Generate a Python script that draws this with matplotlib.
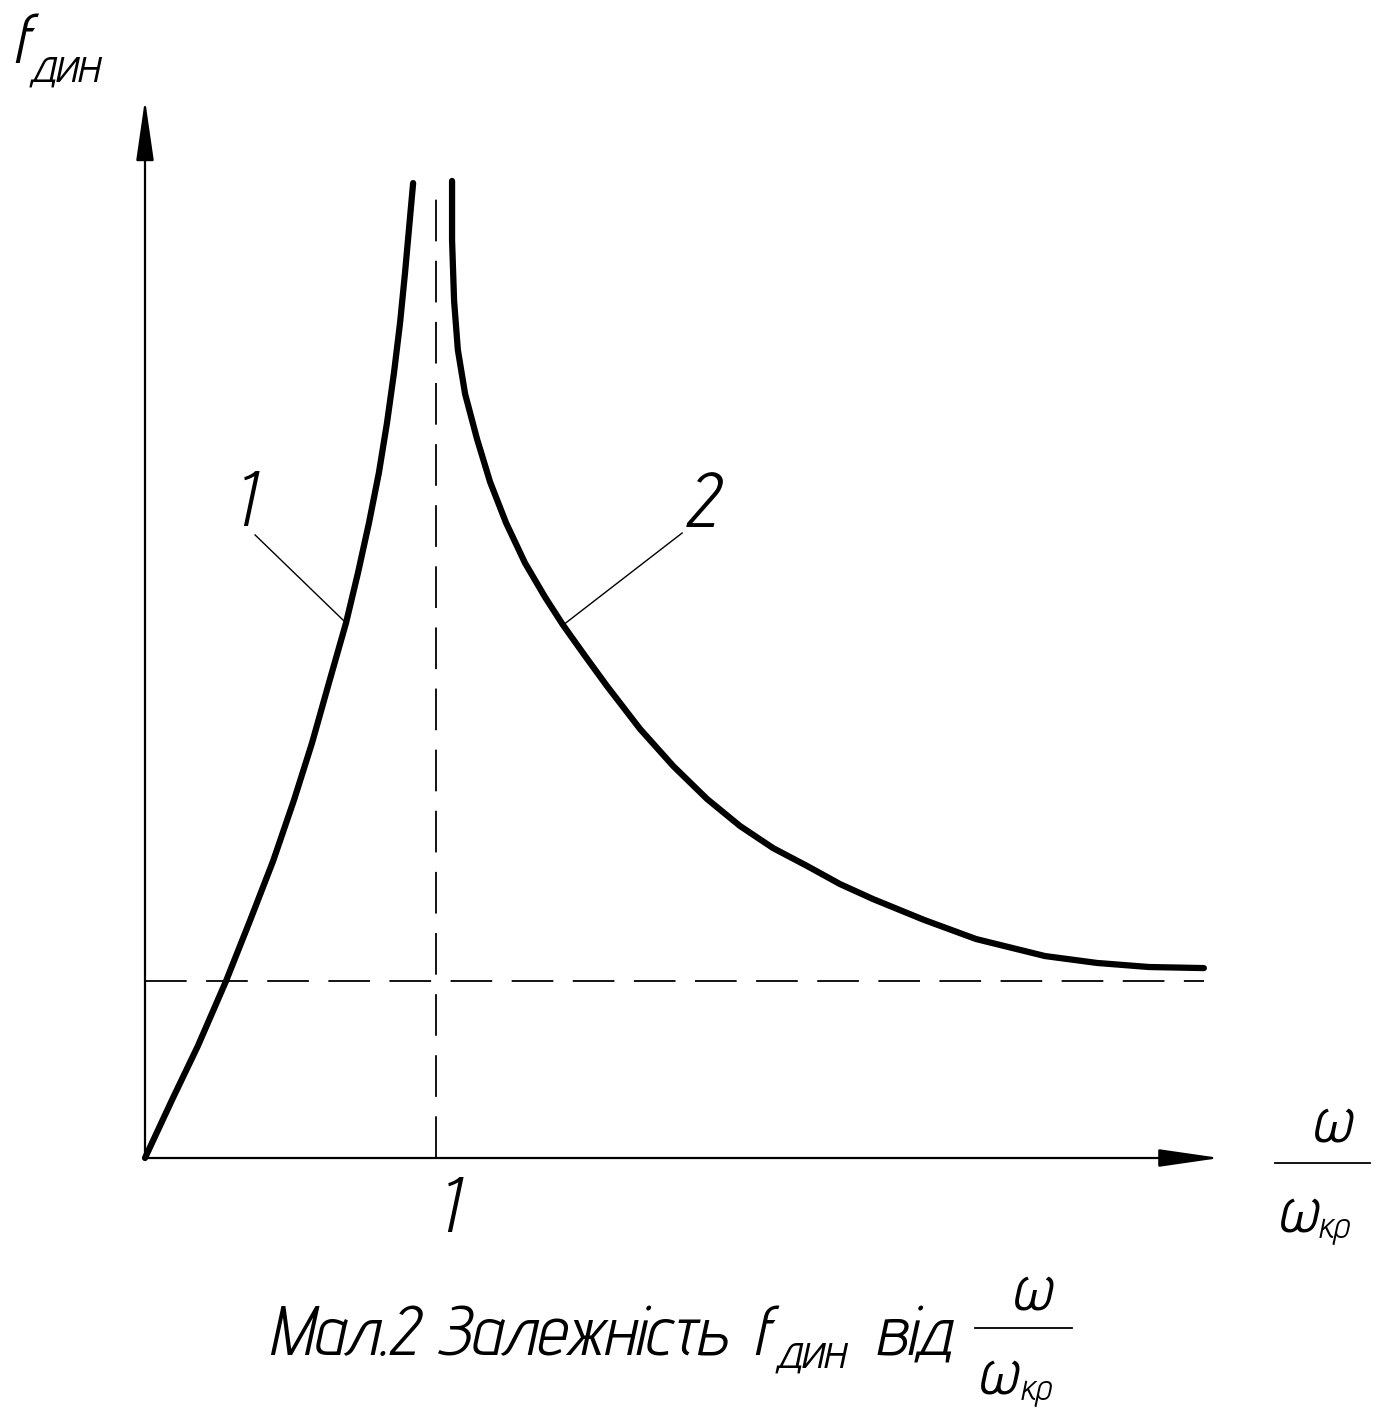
import matplotlib.pyplot as plt

plt.rcParams['font.family'] = ['Advent Pro', 'DejaVu Sans']
plt.rcParams['font.style'] = 'italic'
plt.rcParams['lines.scale_dashes'] = False

# curve 1: omega < omega_cr
x1 = [0, 0.093, 0.182, 0.279, 0.361, 0.441, 0.513, 0.575, 0.634, 0.692,
      0.733, 0.771, 0.805, 0.833, 0.857, 0.878, 0.895, 0.909, 0.923]
y1 = [0, 0.328, 0.633, 1.0, 1.339, 1.678, 2.023, 2.345, 2.689, 3.023,
      3.305, 3.588, 3.870, 4.153, 4.435, 4.718, 5.0, 5.254, 5.508]

# curve 2: omega > omega_cr
x2 = [1.057, 1.057, 1.064, 1.077, 1.102, 1.143, 1.188, 1.243, 1.308, 1.377,
      1.439, 1.515, 1.590, 1.704, 1.818, 1.935, 2.048, 2.162, 2.279, 2.392,
      2.506, 2.682, 2.861, 3.098, 3.277, 3.456, 3.645]
y2 = [5.520, 5.186, 4.842, 4.565, 4.316, 4.062, 3.819, 3.588, 3.362, 3.169,
      3.011, 2.836, 2.667, 2.424, 2.215, 2.028, 1.876, 1.751, 1.650, 1.548,
      1.463, 1.345, 1.237, 1.141, 1.102, 1.079, 1.073]

x_tick = 1
y_static = 1
x_max = 3.70
y_max = 5.98

fig = plt.figure(figsize=(13.91, 14.19), dpi=100)
ax = fig.add_axes([0, 0, 1, 1])
ax.set_xlim(-145 / 290.5, (1391 - 145) / 290.5)
ax.set_ylim((1158 - 1419) / 177, 1158 / 177)
ax.axis('off')

# axes with arrows
arr = dict(arrowstyle='-|>,head_length=3.8,head_width=0.55', lw=1.6,
           color='k', shrinkA=0, shrinkB=0)
ax.annotate('', xy=(0, y_max), xytext=(0, 0), arrowprops=arr)
ax.annotate('', xy=(x_max, 0), xytext=(0, 0), arrowprops=arr)

# dashed asymptotes
ax.plot([x_tick, x_tick], [0, 5.50], color='k', lw=1.3, dashes=(30, 14))
ax.plot([0, x2[-1]], [y_static, y_static], color='k', lw=1.3, dashes=(30, 14))

# curves
ax.plot(x1, y1, color='k', lw=4.5, solid_capstyle='round', solid_joinstyle='round')
ax.plot(x2, y2, color='k', lw=4.5, solid_capstyle='round', solid_joinstyle='round')

# leaders and labels
ax.plot([0.379, x1[9]], [3.52, y1[9]], color='k', lw=1.0)
ax.plot([1.849, x2[10]], [3.531, y2[10]], color='k', lw=1.0)
ax.text(0.330, 3.678, '1', fontsize=56, ha='center', va='center')
ax.text(1.910, 3.672, '2', fontsize=56, ha='center', va='center')

# tick label
ax.text(1.035, -0.31, '1', fontsize=56, ha='center', va='center')

def ftext(px, py, s, size, ha='left'):
    fig.text(px / 1391, 1 - py / 1419, s, fontsize=size, ha=ha, va='baseline')

def fbar(px0, px1, py):
    fig.add_artist(plt.Line2D([px0 / 1391, px1 / 1391], [1 - py / 1419] * 2,
                              color='k', lw=1.3))

# y label
ftext(12, 63, 'f', 50)
ftext(30, 82, 'дин', 36)

# x label fraction
ftext(1330, 1141, 'ω', 48, ha='center')
fbar(1275, 1370, 1163)
ftext(1276, 1232, 'ω', 48)
ftext(1318, 1238, 'кр', 26)

# caption
ftext(268, 1355, 'Мал.2 Залежність', 51)
ftext(752, 1355, 'f', 51)
ftext(776, 1368, 'дин', 36)
ftext(875, 1355, 'від', 51)
ftext(1030, 1310, 'ω', 48, ha='center')
fbar(975, 1072, 1328)
ftext(976, 1394, 'ω', 48)
ftext(1020, 1400, 'кр', 26)

fig.savefig('out.png', dpi=100, facecolor='white')
